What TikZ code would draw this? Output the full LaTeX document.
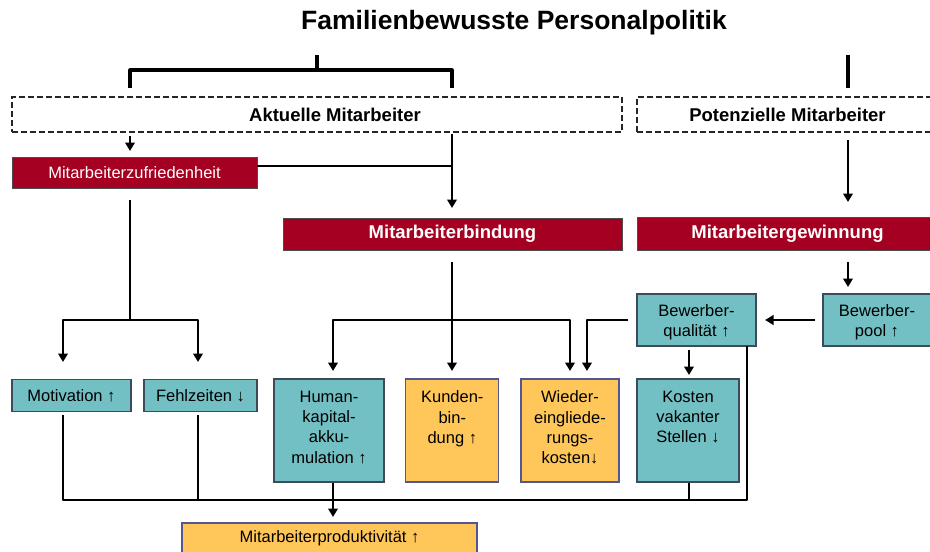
\documentclass[tikz,border=0pt]{standalone}
\usepackage{fontspec}
\setmainfont{Liberation Sans}
\usetikzlibrary{arrows.meta}
\definecolor{myred}{HTML}{A50021}
\definecolor{myteal}{HTML}{72BFC4}
\definecolor{myorange}{HTML}{FFC75A}
\definecolor{bordergray}{HTML}{3C4A5A}
\definecolor{borderblue}{HTML}{555590}
\newcommand{\tbx}[3]{\parbox[c][#1pt][t]{#2pt}{\centering\fontsize{16.5}{20.3}\selectfont\vspace*{12pt}#3}}
\begin{document}
\begin{tikzpicture}[x=1pt,y=-1pt,
 conn/.style={line width=2.7pt, black},
 thick conn/.style={line width=3.1pt, black},
 arr/.style={conn, -{Triangle[width=9.5pt,length=8.5pt]}},
 redbox/.style={draw=black!70, line width=1pt, fill=myred, text=white, inner sep=0},
 tealbox/.style={draw=bordergray, line width=1.3pt, fill=myteal, inner sep=0},
 orgbox/.style={draw=borderblue, line width=1.3pt, fill=myorange, inner sep=0},
 dashbox/.style={draw=black!85, line width=1.7pt, dash pattern=on 6pt off 3pt, inner sep=0},
 body/.style={font=\fontsize{16.5}{20}\selectfont},
 boldtxt/.style={font=\bfseries\fontsize{18.5}{20}\selectfont},
]
\useasboundingbox (0,0) rectangle (930,552);

% title
\node[font=\bfseries\fontsize{26.5}{30}\selectfont] (title) at (514,23) {Familienbewusste Personalpolitik};

% dashed boxes
\node[dashbox, boldtxt, minimum width=610, minimum height=35] (akt) at (317,114.5) {\hspace*{36pt}Aktuelle Mitarbeiter};
\node[dashbox, boldtxt, minimum width=301, minimum height=35] (pot) at (787.5,114.5) {Potenzielle Mitarbeiter};

% red boxes
\node[redbox, body, minimum width=245, minimum height=31] (zuf) at (134.5,172.5) {Mitarbeiterzufriedenheit};
\node[redbox, boldtxt, minimum width=339, minimum height=32] (bind) at (452.5,234) {Mitarbeiterbindung};
\node[redbox, boldtxt, minimum width=301, minimum height=33] (gew) at (787.5,233.5) {Mitarbeitergewinnung};

% single line boxes
\node[tealbox, body, minimum width=119, minimum height=32] (mot) at (71.5,395.5) {Motivation ↑};
\node[tealbox, body, minimum width=113, minimum height=32] (fehl) at (200.5,395.5) {Fehlzeiten ↓};
\node[tealbox, body, align=center, minimum width=119, minimum height=52] (qual) at (696.5,320) {\rule{0pt}{16pt}Bewerber-\\qualität ↑};
\node[tealbox, body, align=center, minimum width=108, minimum height=52] (pool) at (877,320) {\rule{0pt}{16pt}Bewerber-\\pool ↑};

% tall boxes
\node[tealbox] (hum) at (329,430.5) {\tbx{103}{110}{Human-\\kapital-\\akku-\\mulation ↑}};
\node[orgbox] (kund) at (452.3,430.5) {\tbx{103}{93}{Kunden-\\bin-\\dung ↑}};
\node[orgbox] (wied) at (570,430.5) {\tbx{103}{98}{Wieder-\\eingliede-\\rungs-\\kosten↓}};
\node[tealbox] (kost) at (688,430.5) {\tbx{103}{102}{Kosten\\vakanter\\Stellen ↓}};

\node[orgbox, body, minimum width=295, minimum height=31] (prod) at (329.5,538.5) {Mitarbeiterproduktivität ↑};

% coordinates
\coordinate (t0) at (317,55);
\coordinate (tj) at (317,70);
\coordinate (tl) at (130,88);
\coordinate (tr) at (452,88);
\coordinate (p0) at (848,55);
\coordinate (p1) at (848,88);
\coordinate (a1) at (130,136);
\coordinate (a2) at (130,151);
\coordinate (b1) at (452,134);
\coordinate (b2) at (452,208);
\coordinate (bh) at (452,166);
\coordinate (c1) at (848,140);
\coordinate (c2) at (848,202);
\coordinate (d1) at (848,262);
\coordinate (d2) at (848,287);
\coordinate (e1) at (815,320);
\coordinate (e2) at (765,320);
\coordinate (f1) at (689,350);
\coordinate (f2) at (689,375);
\coordinate (g1) at (628,320);
\coordinate (gk) at (587,320);
\coordinate (g2) at (587,371);
\coordinate (z1) at (130,200);
\coordinate (zj) at (130,320);
\coordinate (zl) at (63,320);
\coordinate (zl2) at (63,362);
\coordinate (zr) at (198,320);
\coordinate (zr2) at (198,362);
\coordinate (k1) at (452,262);
\coordinate (bj) at (452,320);
\coordinate (k2) at (452,371);
\coordinate (hl) at (333,320);
\coordinate (hl2) at (333,371);
\coordinate (wr) at (570,320);
\coordinate (wr2) at (570,371);
\coordinate (q1) at (747,346);
\coordinate (q2) at (747,500);
\coordinate (m1) at (63,500);
\coordinate (m2) at (63,415);
\coordinate (fe1) at (198,415);
\coordinate (fe2) at (198,500);
\coordinate (ko2) at (689,500);
\coordinate (h2) at (333,517);
\coordinate (ze) at (257,166);

% top brackets
\draw[thick conn] (t0) -- (tj);
\draw[thick conn, line join=round] (tl) -- (tl |- tj) -- (tr |- tj) -- (tr);
\draw[thick conn] (p0) -- (p1);

% akt -> zuf, bind
\draw[arr] (a1) -- (a2);
\draw[arr] (b1) -- (b2);
\draw[conn] (ze) -- (bh);
% pot -> gew -> pool -> qual
\draw[arr] (c1) -- (c2);
\draw[arr] (d1) -- (d2);
\draw[arr] (e1) -- (e2);
% qual -> kost, wied
\draw[arr] (f1) -- (f2);
\draw[arr, line join=round] (g1) -- (gk) -- (g2);

% zuf -> mot, fehl
\draw[conn] (z1) -- (zj);
\draw[arr, line join=round] (zj) -- (zl) -- (zl2);
\draw[arr, line join=round] (zj) -- (zr) -- (zr2);

% bind -> hum, kund, wied
\draw[arr] (k1) -- (k2);
\draw[arr, line join=round] (bj) -- (hl) -- (hl2);
\draw[arr, line join=round] (bj) -- (wr) -- (wr2);

% collector
\draw[conn, line join=round] (q1) -- (q2) -- (m1) -- (m2);
\draw[conn] (fe1) -- (fe2);
\draw[conn] (kost.south -| ko2) -- (ko2);
\draw[arr] (hum.south -| h2) -- (h2);

\end{tikzpicture}
\end{document}
